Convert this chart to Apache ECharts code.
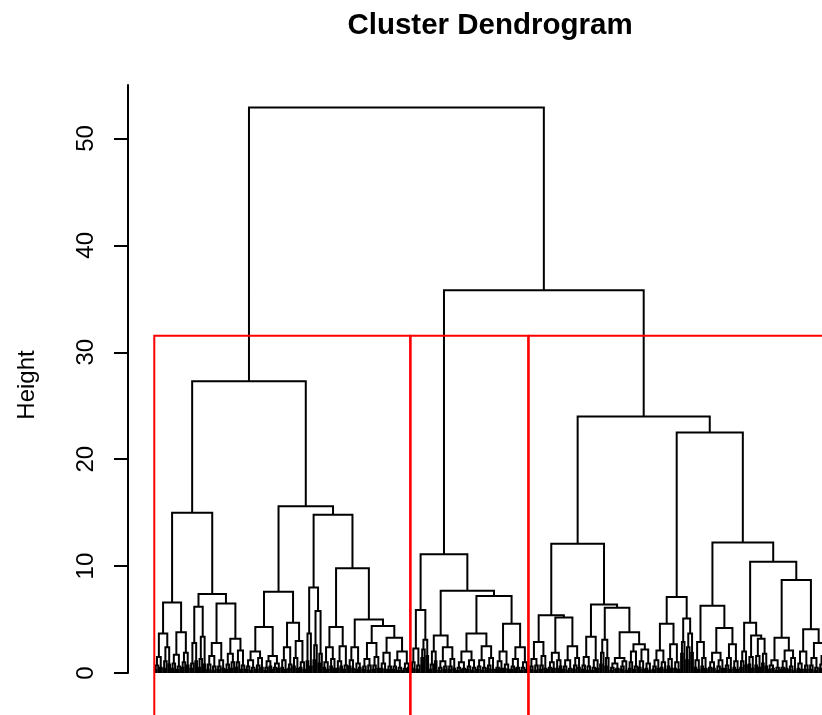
<!DOCTYPE html>
<html>
<head>
<meta charset="utf-8">
<script src="https://cdn.jsdelivr.net/npm/echarts@6/dist/echarts.min.js"></script>
<style>
  html, body { margin: 0; padding: 0; background: #ffffff; overflow: hidden; }
  #chart { width: 822px; height: 715px; }
</style>
</head>
<body>
<div id="chart"></div>
<script>
// ---------------- DATA ----------------
// Y-axis tick labels
const yTicks = [0, 10, 20, 30, 40, 50];

// Heights of the two top-level merges: root, then the merge of clusters 2 and 3
const topHeights = [52.9, 35.8];

// Small leaf groups (tufts) near the bottom: merge heights, root first,
// then the left half and the right half of the remaining merges.
const tuftsA = [
  [3.7, 1.5, 0.7, 0.3, 0.5, 2.4, 1.1, 0.4, 0.8],
  [3.8, 1.7, 0.9, 0.4, 0.6, 0.3, 1.9, 1.0, 0.5, 0.7],
  [2.8, 0.9, 0.4, 1.1],
  [3.4, 1.3, 0.5, 0.8],
  [2.8, 1.6, 0.8, 0.3, 0.6, 0.2, 1.2, 0.6, 0.3, 0.4],
  [3.2, 1.8, 0.8, 0.3, 1.0, 0.4, 2.1, 1.0, 0.5, 0.7, 0.3],
  [2.0, 1.2, 0.6, 0.3, 0.5, 0.2, 1.4, 0.7, 0.3, 0.5],
  [1.6, 1.1, 0.5, 0.2, 0.6, 0.9, 0.5, 0.3, 0.4],
  [2.4, 1.2, 0.5, 0.3, 0.8, 0.4],
  [3.0, 1.4, 0.6, 0.4, 1.0, 0.5, 0.3],
  [3.7, 1.1, 0.6],
  [5.8, 2.6, 1.2, 1.8, 0.9],
  [2.4, 1.0, 0.5, 0.3, 1.3, 0.6, 0.4],
  [2.5, 1.1, 0.4, 0.6, 0.7, 0.3],
  [2.4, 1.2, 0.6, 0.4, 0.9, 0.3, 0.5],
  [2.8, 1.3, 0.6, 0.3, 0.7, 0.2, 1.5, 0.7, 0.3, 0.4],
  [1.9, 0.9, 0.4, 0.3, 0.6, 0.3],
  [2.0, 1.2, 0.6, 0.3, 0.5, 0.2, 0.9, 0.4, 0.2, 0.5]
];
const tuftsB = [
  [2.3, 1.0, 0.4, 0.7, 0.3],
  [3.1, 2.2, 1.4, 1.6],
  [2.0, 0.8, 0.3, 1.1],
  [2.4, 1.1, 0.5, 0.2, 0.6, 0.3, 1.3, 0.6, 0.3, 0.4],
  [2.0, 1.0, 0.5, 0.2, 0.4, 0.3, 1.2, 0.6, 0.3, 0.5, 0.2],
  [2.5, 1.2, 0.6, 0.3, 0.5, 0.2, 1.4, 0.7, 0.4, 0.3],
  [2.0, 1.1, 0.5, 0.3, 0.4, 0.8, 0.4, 0.3],
  [2.4, 1.3, 0.6, 0.3, 0.5, 0.4, 1.0, 0.5, 0.2, 0.3]
];
const tuftsC = [
  [2.9, 1.3, 0.6, 0.3, 0.7, 0.2, 1.6, 0.7, 0.3, 0.4],
  [1.9, 1.0, 0.5, 0.3, 0.4, 1.2, 0.4, 0.6],
  [2.5, 1.2, 0.6, 0.3, 0.4, 0.2, 1.4, 0.7, 0.3, 0.5],
  [3.4, 1.5, 0.7, 0.3, 0.6, 0.2, 1.2, 0.5, 0.2, 0.4],
  [3.1, 1.9, 0.8, 1.4, 0.6],
  [1.4, 0.9, 0.5, 0.2, 0.4, 0.3, 1.1, 0.6, 0.3, 0.2],
  [2.0, 1.0, 0.4, 0.6, 0.3],
  [2.2, 1.1, 0.5, 0.3, 0.9, 0.4, 0.2],
  [2.1, 1.2, 0.6, 0.3, 0.4, 1.0, 0.5, 0.3],
  [2.7, 1.3, 0.6, 0.4, 1.0, 0.4, 0.3],
  [2.9, 1.8],
  [3.7, 2.4, 1.2, 1.9],
  [2.9, 1.2, 0.5, 0.3, 1.4, 0.6, 0.4],
  [1.9, 1.0, 0.5, 0.3, 0.4, 1.2, 0.6, 0.2, 0.4],
  [2.7, 1.4, 0.7, 0.4, 0.3, 1.1, 0.5, 0.3],
  [2.0, 1.1, 0.5, 0.7],
  [1.5, 0.8, 0.4],
  [1.6, 0.7, 0.5],
  [1.8, 0.9, 0.6],
  [1.2, 0.7, 0.3, 0.4, 0.5, 0.2],
  [2.1, 1.1, 0.5, 0.3, 0.4, 1.4, 0.6, 0.3, 0.2],
  [2.0, 0.9, 0.4, 0.3, 0.7, 0.3],
  [2.8, 1.4, 0.7, 0.3, 0.5, 0.2, 1.6, 0.8, 0.4, 0.3]
];

// Upper structure of each cluster: [height, left, right]; a number = tuft index
const clusterA = [27.3,
  [15.0, [6.6, 0, 1], [7.4, [6.2, 2, 3], [6.5, 4, 5]]],
  [15.6,
    [7.6, [4.3, 6, 7], [4.7, 8, 9]],
    [14.8, [8.0, 10, 11],
      [9.8, [4.3, 12, 13], [5.0, 14, [4.4, 15, [3.3, 16, 17]]]]]]];
const clusterB = [11.1,
  [5.9, 0, 1],
  [7.7, [3.5, 2, 3], [7.2, [3.7, 4, 5], [4.6, 6, 7]]]];
const clusterC = [24.0,
  [12.1,
    [5.4, 0, [5.2, 1, 2]],
    [6.4, 3, [6.1, 4, [3.8, 5, [2.7, 6, 7]]]]],
  [22.5,
    [7.1, [4.6, 8, 9], [5.1, 10, 11]],
    [12.2,
      [6.3, 12, [4.2, 13, 14]],
      [10.4,
        [4.7, 15, [3.5, 16, [3.2, 17, 18]]],
        [8.7, [3.3, 19, 20], [4.1, 21, 22]]]]]];

// ---------------- LAYOUT (leaf order -> x index) ----------------
let leafCount = 0;
const segs = [];      // [xLeft, xRight, height, heightLeftChild, heightRightChild]
const allHeights = [];
function join(L, R, h) {
  segs.push([L.x, R.x, h, L.h, R.h]);
  allHeights.push(h);
  return { x: (L.x + R.x) / 2, h: h };
}
function buildTuft(hs) {
  if (hs.length === 0) { leafCount++; return { x: leafCount, h: 0 }; }
  const rest = hs.slice(1);
  const k = Math.ceil(rest.length / 2);
  const L = buildTuft(rest.slice(0, k));
  const R = buildTuft(rest.slice(k));
  return join(L, R, hs[0]);
}
function buildNode(node, tufts) {
  if (typeof node === 'number') return buildTuft(tufts[node]);
  const L = buildNode(node[1], tufts);
  const R = buildNode(node[2], tufts);
  return join(L, R, node[0]);
}
const clusters = [];
function buildCluster(tree, tufts) {
  const first = leafCount + 1;
  const res = buildNode(tree, tufts);
  clusters.push([first, leafCount]);
  return res;
}
const nA = buildCluster(clusterA, tuftsA);
const nB = buildCluster(clusterB, tuftsB);
const nC = buildCluster(clusterC, tuftsC);
const nBC = join(nB, nC, topHeights[1]);
join(nA, nBC, topHeights[0]);
const n = leafCount;

// rect.hclust(k = 3): height between 2nd and 3rd highest merges
const sortedH = allHeights.slice().sort((a, b) => b - a);
const cutH = (sortedH[1] + sortedH[2]) / 2;
const rects = clusters.map(c => [c[0] - 0.34, c[1] + 0.33, cutH]);

// R-style x range (4% padding); the original plot region is wider than the
// picture (cropped on the right), so only the visible part of it is shown.
const GRID_LEFT = 128, CANVAS_W = 822, FULL_RIGHT = 853;
const xMinFull = 1 - 0.04 * (n - 1), xMaxFull = n + 0.04 * (n - 1);
const xMaxShown = xMinFull + (xMaxFull - xMinFull) * (CANVAS_W - GRID_LEFT) / (FULL_RIGHT - GRID_LEFT);

// ---------------- CHART ----------------
const chart = echarts.init(document.getElementById('chart'), null, { renderer: 'canvas' });
const FONT = "'Liberation Sans', Arial, Helvetica, sans-serif";
const LW = 2;

chart.setOption({
  backgroundColor: '#ffffff',
  animation: false,
  title: {
    text: 'Cluster Dendrogram',
    left: 485, top: 6, textAlign: 'center',
    textStyle: { fontFamily: FONT, fontSize: 29.5, fontWeight: 'bold', color: '#000' }
  },
  graphic: [{
    type: 'text',
    x: 27, y: 385, rotation: Math.PI / 2,
    style: {
      text: 'Height', fill: '#000', font: '24px ' + FONT,
      textAlign: 'center', textVerticalAlign: 'middle'
    }
  }],
  grid: { left: GRID_LEFT, right: 0, top: 85, bottom: 42, containLabel: false, outerBoundsMode: 'none' },
  xAxis: {
    type: 'value',
    min: xMinFull, max: xMaxShown,
    show: false
  },
  yAxis: {
    type: 'value', min: 0, max: 55, interval: 10,
    axisLine: { show: true, onZero: false, lineStyle: { color: '#000', width: LW } },
    axisTick: { show: true, length: 14, customValues: yTicks, lineStyle: { color: '#000', width: LW } },
    axisLabel: {
      customValues: yTicks, rotate: 90, margin: 30,
      fontFamily: FONT, fontSize: 24, color: '#000'
    },
    splitLine: { show: false }
  },
  series: [
    {
      type: 'custom',
      name: 'dendrogram',
      clip: false,
      encode: { x: [0, 1], y: [2, 3, 4] },
      data: segs,
      renderItem: function (params, api) {
        const a = api.coord([api.value(0), api.value(3)]);
        const b = api.coord([api.value(0), api.value(2)]);
        const c = api.coord([api.value(1), api.value(2)]);
        const d = api.coord([api.value(1), api.value(4)]);
        return {
          type: 'polyline',
          shape: { points: [a, b, c, d] },
          style: { stroke: '#000', fill: null, lineWidth: LW }
        };
      }
    },
    {
      type: 'custom',
      name: 'clusters',
      clip: false,
      encode: { x: [0, 1], y: 2 },
      data: rects,
      renderItem: function (params, api) {
        const bottom = -6;
        const a = api.coord([api.value(0), bottom]);
        const b = api.coord([api.value(0), api.value(2)]);
        const c = api.coord([api.value(1), api.value(2)]);
        const d = api.coord([api.value(1), bottom]);
        return {
          type: 'polyline',
          shape: { points: [a, b, c, d] },
          style: { stroke: '#ff0000', fill: null, lineWidth: LW }
        };
      }
    }
  ]
});
</script>
</body>
</html>
